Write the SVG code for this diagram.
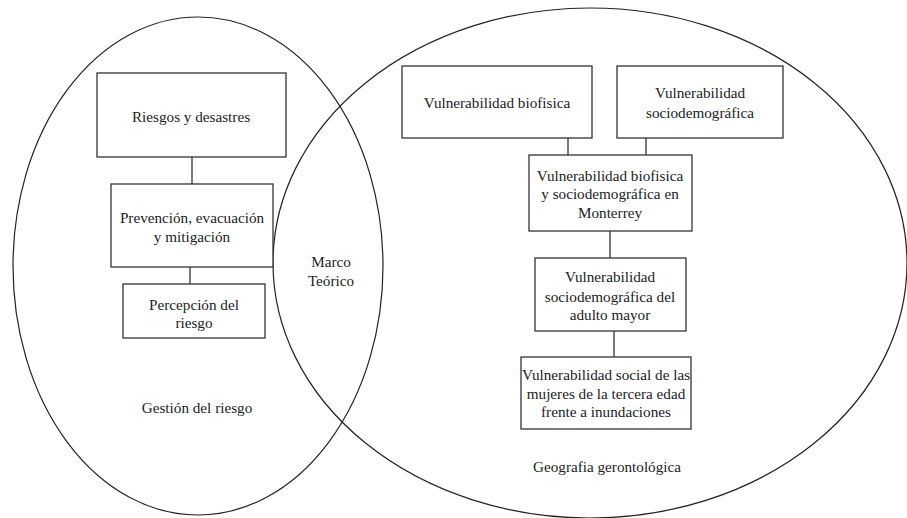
<svg xmlns="http://www.w3.org/2000/svg" width="907" height="518" viewBox="0 0 907 518">
<style>
.el{fill:none;stroke:#222;stroke-width:1.2}
.bx{fill:#fff;stroke:#333;stroke-width:1.3}
.cn{stroke:#333;stroke-width:1.3;fill:none}
text{font-family:"Liberation Serif","Times New Roman",serif;font-size:15.2px;fill:#222;text-anchor:middle}
</style>
<rect width="907" height="518" fill="#fff"/>
<g id="ellipses">
<ellipse id="gestion-ellipse" class="el" cx="198" cy="266" rx="185" ry="249"/>
<ellipse id="geografia-ellipse" class="el" cx="590" cy="263" rx="317" ry="255"/>
</g>
<g id="connectors">
<line class="cn" x1="192" y1="157" x2="192" y2="184"/>
<line class="cn" x1="190" y1="267" x2="190" y2="284"/>
<line class="cn" x1="568" y1="138" x2="568" y2="155"/>
<line class="cn" x1="646" y1="138" x2="646" y2="155"/>
<line class="cn" x1="610" y1="231" x2="610" y2="258"/>
<line class="cn" x1="614" y1="331" x2="614" y2="357"/>
</g>
<g id="riesgos">
<rect class="bx" x="97" y="73" width="189" height="84"/>
<text x="191" y="122">Riesgos y desastres</text>
</g>
<g id="prevencion">
<rect class="bx" x="111" y="184" width="162" height="83"/>
<text x="192" y="223">Prevención, evacuación</text>
<text x="192" y="242">y mitigación</text>
</g>
<g id="percepcion">
<rect class="bx" x="123" y="284" width="142" height="54"/>
<text x="194" y="310">Percepción del</text>
<text x="194" y="328">riesgo</text>
</g>
<g id="gestion-label">
<text x="197" y="413">Gestión del riesgo</text>
</g>
<g id="marco">
<text x="331" y="267">Marco</text>
<text x="331" y="286">Teórico</text>
</g>
<g id="biofisica">
<rect class="bx" x="402" y="66" width="190" height="72"/>
<text x="497" y="108">Vulnerabilidad biofisica</text>
</g>
<g id="sociodemografica">
<rect class="bx" x="617" y="66" width="166" height="72"/>
<text x="700" y="98">Vulnerabilidad</text>
<text x="700" y="118">sociodemográfica</text>
</g>
<g id="monterrey">
<rect class="bx" x="529" y="155" width="163" height="76"/>
<text x="610" y="181">Vulnerabilidad biofisica</text>
<text x="610" y="199">y sociodemográfica en</text>
<text x="610" y="218">Monterrey</text>
</g>
<g id="adulto">
<rect class="bx" x="535" y="258" width="151" height="73"/>
<text x="610" y="282">Vulnerabilidad</text>
<text x="610" y="302">sociodemográfica del</text>
<text x="610" y="320">adulto mayor</text>
</g>
<g id="mujeres">
<rect class="bx" x="521" y="357" width="170" height="72"/>
<text x="606" y="380">Vulnerabilidad social de las</text>
<text x="606" y="399">mujeres de la tercera edad</text>
<text x="606" y="417">frente a inundaciones</text>
</g>
<g id="geografia-label">
<text x="607" y="472">Geografia gerontológica</text>
</g>
</svg>
